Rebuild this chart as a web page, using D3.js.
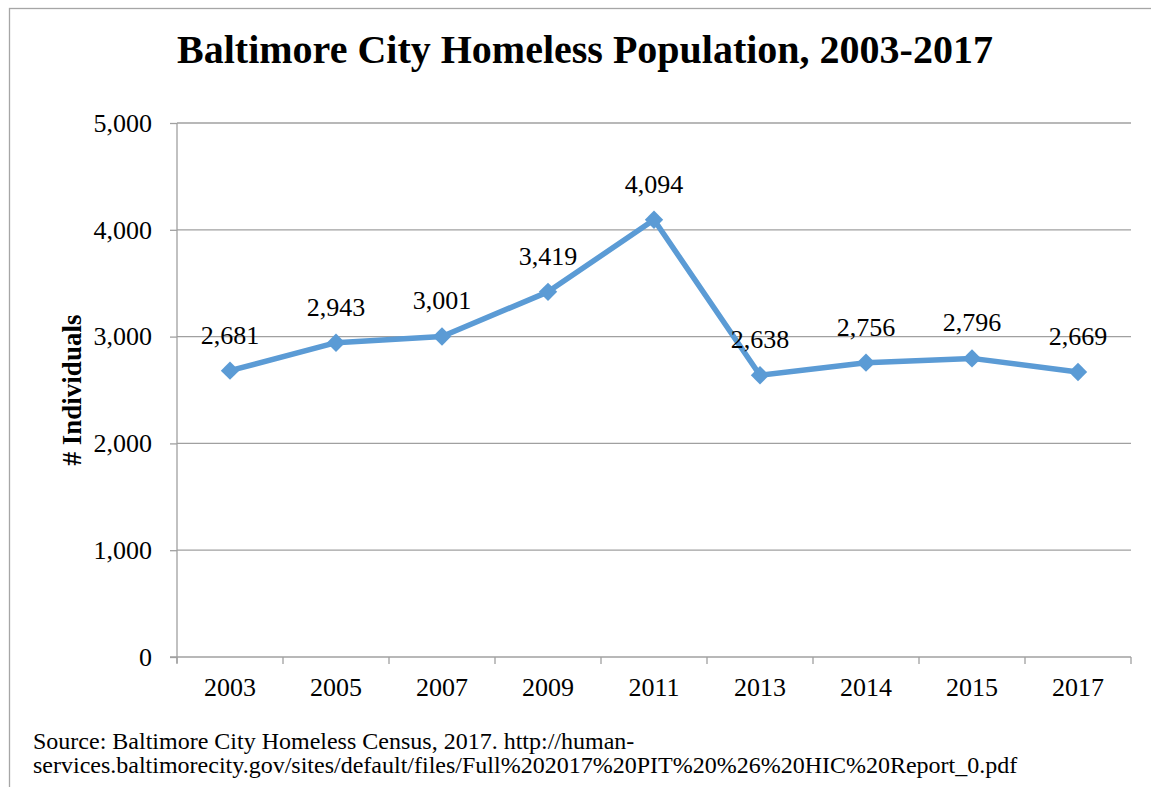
<!DOCTYPE html>
<html>
<head>
<meta charset="utf-8">
<script src="https://cdn.jsdelivr.net/npm/d3@7"></script>
<style>
  html, body { margin: 0; padding: 0; background: #fff; }
  svg { display: block; }
  text { font-family: "Liberation Serif", "Times New Roman", serif; fill: #000; }
</style>
</head>
<body>
<svg id="chart" width="1151" height="787"></svg>
<script>
const years = ["2003", "2005", "2007", "2009", "2011", "2013", "2014", "2015", "2017"];
const individuals = [2681, 2943, 3001, 3419, 4094, 2638, 2756, 2796, 2669];
const yTicks = [0, 1000, 2000, 3000, 4000, 5000];

const svg = d3.select("#chart");
const W = 1151, H = 787;
const plot = { left: 177, right: 1131, top: 123, bottom: 657 };

// outer chart frame
svg.append("rect")
  .attr("x", 9.5).attr("y", 8.5)
  .attr("width", W + 10).attr("height", H + 10)
  .attr("fill", "none").attr("stroke", "#a6a6a6").attr("stroke-width", 1.3);

const x = d3.scaleBand().domain(years).range([plot.left, plot.right]);
const y = d3.scaleLinear().domain([0, 5000]).range([plot.bottom, plot.top]);
const fmt = d3.format(",");

// horizontal gridlines
svg.append("g")
  .selectAll("line").data(yTicks.filter(d => d > 0)).join("line")
  .attr("x1", plot.left).attr("x2", plot.right)
  .attr("y1", d => y(d)).attr("y2", d => y(d))
  .attr("stroke", "#a0a0a0").attr("stroke-width", 1.3);

// y axis
const yAxis = svg.append("g")
  .attr("transform", `translate(${plot.left},0)`)
  .call(d3.axisLeft(y).tickValues(yTicks).tickFormat(fmt).tickSize(7).tickPadding(18));
yAxis.select(".domain").attr("stroke", "#a0a0a0").attr("stroke-width", 1.3)
  .attr("d", `M0,${plot.top}V${plot.bottom + 6}`);
yAxis.selectAll(".tick line").attr("stroke", "#a0a0a0").attr("stroke-width", 1.3);
yAxis.selectAll(".tick text")
  .style("font-family", "'Liberation Serif', 'Times New Roman', serif")
  .style("font-size", "26px").attr("fill", "#000");

// x axis with ticks at category boundaries
const xAxis = svg.append("g")
  .attr("transform", `translate(0,${plot.bottom})`)
  .call(d3.axisBottom(x).tickSize(0).tickPadding(21));
xAxis.select(".domain").attr("stroke", "#a0a0a0").attr("stroke-width", 1.3)
  .attr("d", `M${plot.left - 7},0H${plot.right}`);
xAxis.selectAll(".tick text")
  .style("font-family", "'Liberation Serif', 'Times New Roman', serif")
  .style("font-size", "26px").attr("fill", "#000");
const bounds = years.map(d => x(d)).concat([x(years[years.length - 1]) + x.bandwidth()]);
xAxis.selectAll(".bound").data(bounds).join("line")
  .attr("class", "bound")
  .attr("x1", d => d).attr("x2", d => d)
  .attr("y1", 0).attr("y2", 7)
  .attr("stroke", "#a0a0a0").attr("stroke-width", 1.3);

// series line
const cx = d => x(d) + x.bandwidth() / 2;
const pts = years.map((d, i) => [cx(d), y(individuals[i])]);
svg.append("path")
  .datum(pts)
  .attr("d", d3.line())
  .attr("fill", "none").attr("stroke", "#5b9bd5")
  .attr("stroke-width", 5.5).attr("stroke-linejoin", "round");

// diamond markers
svg.append("g").selectAll("path").data(pts).join("path")
  .attr("transform", d => `translate(${d[0]},${d[1]}) rotate(45)`)
  .attr("d", "M-6.5,-6.5H6.5V6.5H-6.5Z")
  .attr("fill", "#5b9bd5");

// value labels
svg.append("g").selectAll("text").data(individuals).join("text")
  .attr("x", (d, i) => cx(years[i]))
  .attr("y", d => y(d) - 27)
  .attr("text-anchor", "middle")
  .style("font-size", "26px")
  .text(d => fmt(d));

// title
svg.append("text")
  .attr("x", 585).attr("y", 63)
  .attr("text-anchor", "middle")
  .style("font-size", "40px").style("font-weight", "bold")
  .text("Baltimore City Homeless Population, 2003-2017");

// y axis title
svg.append("text")
  .attr("transform", `translate(81,${(plot.top + plot.bottom) / 2}) rotate(-90)`)
  .attr("text-anchor", "middle")
  .style("font-size", "27px").style("font-weight", "bold")
  .text("# Individuals");

// source note
const src = svg.append("text").style("font-size", "24px");
src.append("tspan").attr("x", 33).attr("y", 749)
  .text("Source: Baltimore City Homeless Census, 2017. http://human-");
src.append("tspan").attr("x", 33).attr("y", 773)
  .text("services.baltimorecity.gov/sites/default/files/Full%202017%20PIT%20%26%20HIC%20Report_0.pdf");
</script>
</body>
</html>
